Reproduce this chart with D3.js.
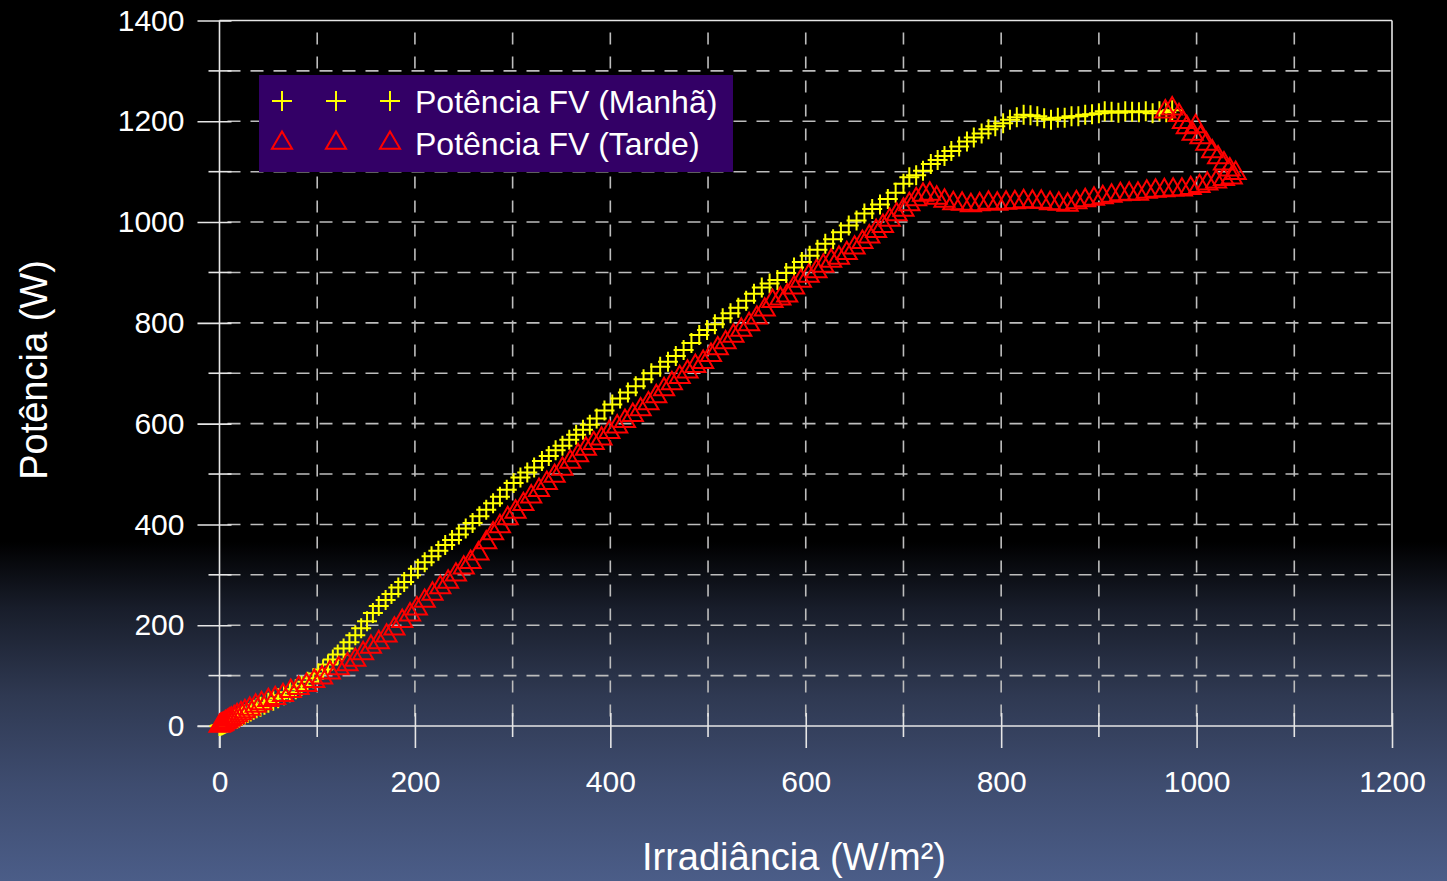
<!DOCTYPE html>
<html>
<head>
<meta charset="utf-8">
<script src="https://cdn.jsdelivr.net/npm/d3@7"></script>
<style>
  html, body { margin: 0; padding: 0; background: #000; }
  svg { display: block; font-family: "Liberation Sans", Arial, sans-serif; }
</style>
</head>
<body>
<svg id="chart" width="1447" height="881"></svg>
<script>
// Irradiância (W/m²) e potência (W) — manhã
const manhaIrr = [0,1,2,3,4,5,6,8,10,12,14,16,18,20,23,26,29,32,35,38,42,46,50,55,60,66,72,78,84,90,96,101,106,111,116,121,127,133,139,145,151,157,163,170,176,183,189,196,203,210,217,224,231,238,245,252,259,266,273,280,287,294,301,308,315,322,330,337,344,351,358,365,372,379,386,394,402,410,418,426,434,442,451,459,467,475,483,491,499,507,515,523,531,539,547,555,563,571,580,588,596,604,612,620,628,636,644,652,660,668,676,684,692,700,706,713,720,728,735,742,749,757,765,772,780,787,794,802,809,816,823,830,837,844,851,858,865,872,879,886,893,900,906,913,920,927,934,941,948,955,962,969,975];
const manhaPot = [0,1,1,2,3,4,5,6,8,10,12,14,15,17,20,23,26,29,32,35,38,42,46,50,55,61,67,73,80,88,95,104,112,122,132,142,154,166,180,194,208,224,238,250,262,275,286,299,312,325,337,348,359,369,380,392,403,416,429,442,455,469,482,493,503,513,526,536,547,556,568,578,588,598,610,626,638,650,662,674,688,700,713,723,734,746,760,776,786,797,809,819,830,844,858,870,878,885,899,910,921,933,945,957,966,980,993,1003,1017,1026,1035,1046,1058,1076,1089,1093,1102,1115,1123,1131,1141,1150,1160,1168,1176,1184,1190,1196,1203,1208,1213,1212,1210,1206,1203,1207,1207,1210,1210,1213,1214,1216,1220,1219,1217,1220,1219,1218,1220,1216,1220,1218,1222];

// Irradiância (W/m²) e potência (W) — tarde
const tardeIrr = [975,968,982,986,990,999,996,1004,1010,1016,1022,1028,1034,1040,1036,1028,1020,1011,1003,994,985,976,967,958,949,940,931,922,913,904,895,886,877,868,859,850,841,832,823,814,805,796,787,778,769,760,751,742,734,727,720,713,706,700,693,686,679,672,665,658,650,642,634,626,618,611,603,595,588,581,574,566,558,550,542,534,526,518,510,503,495,487,479,471,463,455,447,439,431,423,415,407,399,391,383,375,367,359,351,343,335,327,319,311,303,295,287,280,273,265,257,250,242,234,226,218,210,202,195,187,179,171,163,155,147,139,131,122,113,105,97,89,81,73,65,57,50,43,37,31,26,22,18,15,12,10,8,6,4,3,2,1,0];
const tardePot = [1225,1219,1212,1198,1188,1190,1175,1168,1155,1140,1128,1116,1104,1097,1088,1085,1080,1076,1071,1067,1064,1064,1063,1062,1060,1056,1056,1055,1052,1049,1046,1043,1039,1034,1036,1037,1040,1040,1041,1039,1038,1036,1038,1035,1033,1036,1037,1042,1048,1056,1054,1045,1035,1024,1015,1004,992,982,971,960,949,938,929,923,913,902,893,883,870,854,848,843,826,810,797,786,774,761,749,736,722,714,703,692,680,668,654,640,628,617,605,594,583,570,561,550,537,524,510,496,482,468,455,440,425,412,396,382,364,342,325,314,300,286,275,262,248,233,221,208,193,179,166,157,144,131,122,114,106,96,89,81,75,69,61,55,51,45,40,34,29,25,21,17,14,12,9,7,4,3,2,1,0];

const xTicks = [0,200,400,600,800,1000,1200];
const yTicks = [0,200,400,600,800,1000,1200,1400];
const seriesNames = ["Potência FV (Manhã)", "Potência FV (Tarde)"];

const W = 1447, H = 881;
const svg = d3.select("#chart");

// Fundo: preto no topo, degradê azul na parte inferior
const defs = svg.append("defs");
const grad = defs.append("linearGradient")
  .attr("id", "bg").attr("x1", 0).attr("y1", 0).attr("x2", 0).attr("y2", 1);
[[0, "#000000"], [0.615, "#000000"], [0.69, "#181d2a"], [0.79, "#2f3952"], [0.89, "#3e4c6f"], [1, "#4b5d88"]]
  .forEach(([o, c]) => grad.append("stop").attr("offset", o).attr("stop-color", c));
svg.append("rect").attr("width", W).attr("height", H).attr("fill", "url(#bg)");

const x = d3.scaleLinear().domain([0, 1200]).range([219.5, 1392]);
const y = d3.scaleLinear().domain([0, 1400]).range([726, 20.5]);

const gridColor = "#bdbdbd";
const axisColor = "#e6e6e6";
const fontFam = "Liberation Sans, Arial, sans-serif";

// Grade tracejada a cada 100 unidades
const gx = d3.range(100, 1200, 100);
const gy = d3.range(100, 1400, 100);
svg.append("g").selectAll("line").data(gy).join("line")
  .attr("x1", x(0)).attr("x2", x(1200))
  .attr("y1", d => y(d)).attr("y2", d => y(d))
  .attr("stroke", gridColor).attr("stroke-width", 1.6)
  .attr("stroke-dasharray", "13,10").attr("stroke-dashoffset", -8);
svg.append("g").selectAll("line").data(gx).join("line")
  .attr("x1", d => x(d)).attr("x2", d => x(d))
  .attr("y1", y(1400)).attr("y2", y(0))
  .attr("stroke", gridColor).attr("stroke-width", 1.6)
  .attr("stroke-dasharray", "12,12").attr("stroke-dashoffset", -12);

// Moldura: topo e lado direito
svg.append("line").attr("x1", x(0)).attr("x2", x(1200)).attr("y1", y(1400)).attr("y2", y(1400))
  .attr("stroke", axisColor).attr("stroke-width", 1.6);
svg.append("line").attr("x1", x(1200)).attr("x2", x(1200)).attr("y1", y(1400)).attr("y2", y(0))
  .attr("stroke", axisColor).attr("stroke-width", 1.6);

// Eixo Y
const yAxis = d3.axisLeft(y).tickValues(yTicks).tickFormat(d3.format("d")).tickSize(22).tickPadding(12);
const gY = svg.append("g").attr("transform", `translate(${x(0)},0)`).call(yAxis);
gY.select(".domain").attr("stroke", axisColor).attr("stroke-width", 1.6)
  .attr("d", `M0,${y(1400)}V${y(0) + 22}`);
gY.selectAll(".tick line").attr("stroke", axisColor).attr("stroke-width", 1.6).attr("x2", -22).attr("x1", 12);
gY.selectAll(".tick text").attr("fill", "#fff").attr("font-size", 30)
  .attr("font-family", fontFam).attr("x", -35);
// marcas secundárias
svg.append("g").selectAll("line").data(d3.range(100, 1400, 200)).join("line")
  .attr("x1", x(0) - 11).attr("x2", x(0) + 12)
  .attr("y1", d => y(d)).attr("y2", d => y(d))
  .attr("stroke", axisColor).attr("stroke-width", 1.6);

// Eixo X
const xAxis = d3.axisBottom(x).tickValues(xTicks).tickFormat(d3.format("d")).tickSize(22).tickPadding(12);
const gX = svg.append("g").attr("transform", `translate(0,${y(0)})`).call(xAxis);
gX.select(".domain").attr("stroke", axisColor).attr("stroke-width", 1.6)
  .attr("d", `M${x(0) - 22},0H${x(1200)}`);
gX.selectAll(".tick line").attr("stroke", axisColor).attr("stroke-width", 1.6).attr("y1", -13).attr("y2", 22);
gX.selectAll(".tick text").attr("fill", "#fff").attr("font-size", 30)
  .attr("font-family", fontFam).attr("y", 45);
svg.append("g").selectAll("line").data(d3.range(100, 1200, 200)).join("line")
  .attr("x1", d => x(d)).attr("x2", d => x(d))
  .attr("y1", y(0) - 13).attr("y2", y(0) + 11)
  .attr("stroke", axisColor).attr("stroke-width", 1.6);

// Títulos dos eixos
svg.append("text").attr("x", 794).attr("y", 870)
  .attr("text-anchor", "middle").attr("fill", "#fff").attr("font-size", 38)
  .text("Irradiância (W/m²)");
svg.append("text").attr("transform", `translate(47,370) rotate(-90)`)
  .attr("text-anchor", "middle").attr("fill", "#fff").attr("font-size", 38)
  .text("Potência (W)");

// Marcadores
const crossPath = "M-10,0H10M0,-10V10";
const triPath = d3.symbol().type(d3.symbolTriangle).size(175)();

const manha = manhaIrr.map((v, i) => [v, manhaPot[i]]);
const tarde = tardeIrr.map((v, i) => [v, tardePot[i]]);

svg.append("g").selectAll("path").data(manha).join("path")
  .attr("d", crossPath)
  .attr("transform", d => `translate(${x(d[0])},${y(d[1])})`)
  .attr("fill", "none").attr("stroke", "#ffff00").attr("stroke-width", 2);

svg.append("g").selectAll("path").data(tarde).join("path")
  .attr("d", triPath)
  .attr("transform", d => `translate(${x(d[0])},${y(d[1])})`)
  .attr("fill", "none").attr("stroke", "#ff0000").attr("stroke-width", 2);

// Legenda
const leg = svg.append("g");
leg.append("rect").attr("x", 259).attr("y", 75).attr("width", 474).attr("height", 97)
  .attr("fill", "#330066");
const legRows = [
  { name: seriesNames[0], d: crossPath, color: "#ffff00", cy: 101 },
  { name: seriesNames[1], d: triPath, color: "#ff0000", cy: 143 }
];
legRows.forEach(r => {
  [282, 336, 390].forEach(cx => {
    leg.append("path").attr("d", r.d).attr("transform", `translate(${cx},${r.cy})`)
      .attr("fill", "none").attr("stroke", r.color).attr("stroke-width", 2);
  });
  leg.append("text").attr("x", 415).attr("y", r.cy + 12)
    .attr("fill", "#fff").attr("font-size", 32).text(r.name);
});
</script>
</body>
</html>
